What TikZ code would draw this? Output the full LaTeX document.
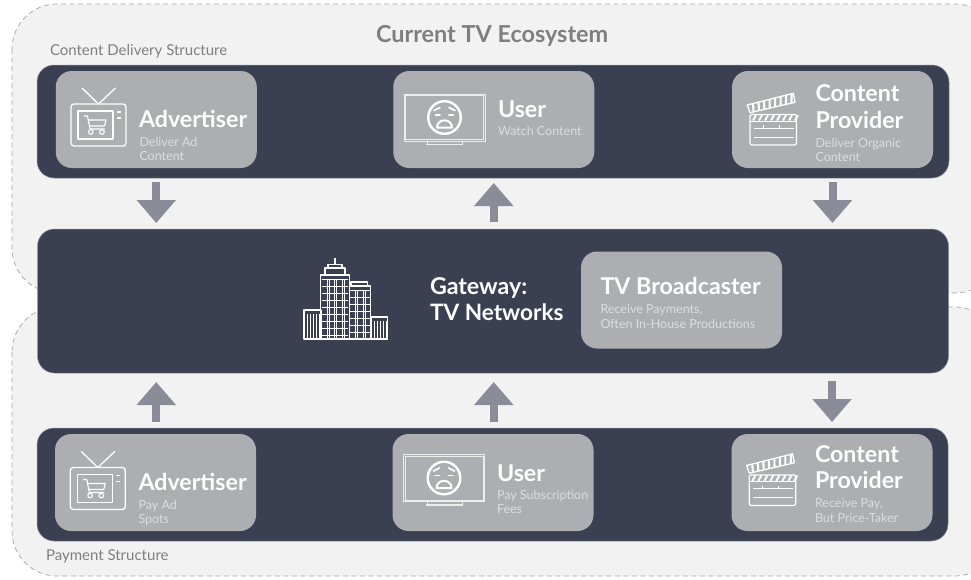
\documentclass[tikz,border=0pt]{standalone}
\usepackage{fontspec}
\setmainfont{Lato}
\usetikzlibrary{arrows.meta}
\definecolor{panelfill}{HTML}{F2F2F2}
\definecolor{paneldash}{HTML}{A6A6A6}
\definecolor{bardark}{HTML}{3A3F52}
\definecolor{baredge}{HTML}{8E909A}
\definecolor{cardgray}{HTML}{ADAEB2}
\definecolor{arrowgray}{HTML}{8A8D99}
\definecolor{headgray}{HTML}{7F7F7F}
\definecolor{subwhite}{HTML}{DCDDE0}
\tikzset{
  panel/.style={fill=panelfill,draw=paneldash,line width=0.7pt,dash pattern=on 5pt off 3.5pt,rounded corners=45pt},
  darkbar/.style={fill=bardark,draw=baredge,line width=0.5pt,rounded corners=17pt,minimum width=#1,inner sep=0pt,outer sep=0pt},
  card/.style={fill=cardgray,rounded corners=16pt,minimum width=201pt,minimum height=97pt,inner sep=0pt,outer sep=0pt},
  blockarrow/.style={draw=arrowgray,line width=8pt,-{Triangle[length=23pt,width=38pt,fill=arrowgray]}},
  txt/.style={anchor=base west,inner sep=0pt,outer sep=0pt},
  cardtitle/.style={txt,text=white,font=\fontsize{23.2}{23}\selectfont\bfseries},
  cardsub/.style={txt,text=subwhite,font=\fontsize{12.5}{13}\selectfont},
  structlabel/.style={txt,text=headgray,font=\fontsize{15}{15}\selectfont},
  icon/.style={draw=white,line width=1.3pt,line join=round,line cap=round},
  thinicon/.style={draw=white,line width=0.7pt},
}
\newcommand{\tvcart}[2]{%
\begin{scope}[shift={(#1,#2)}]
 \draw[icon,rounded corners=3pt] (71,104) rectangle (126,146);
 \draw[icon] (82,88) -- (98.5,104) -- (115.5,88);
 \draw[icon] (78,111) rectangle (113,139);
 \draw[icon] (117.5,112) -- (120.5,112) (117.5,118) -- (120.5,118);
 \draw[icon,line width=1.1pt] (84,116) -- (87.5,116) -- (90,129) -- (104.5,129) (88,120) -- (106,120) -- (104.5,126) -- (89.5,126);
 \draw[icon,line width=1.1pt] (90.8,132) circle (2.3) (102,132) circle (2.3);
\end{scope}}
\newcommand{\sadtv}[2]{%
\begin{scope}[shift={(#1,#2)}]
 \draw[draw=white,line width=0.5pt,opacity=.8] (404,94) rectangle (485,141);
 \draw[draw=white,line width=0.9pt,opacity=.8] (405.5,95.5) rectangle (483.5,139.5);
 \draw[draw=white,line width=0.6pt,opacity=.8] (427.5,141) -- (427.5,144) (462.5,141) -- (462.5,144);
 \draw[draw=white,line width=1.5pt,opacity=.8] (426,144.5) -- (463,144.5);
 \draw[icon,line width=2.4pt] (444.5,117.5) circle (16.3);
 \draw[icon,line width=1.7pt] (434,110.5) -- (440,107.5) (455,110.5) -- (449,107.5);
 \draw[icon,line width=1.9pt] (435.5,115) -- (440,115) (449,115) -- (453.5,115);
 \draw[icon,line width=2pt] (437,127.5) .. controls (437,118) and (452,118) .. (452,127.5) -- cycle;
\end{scope}}
\newcommand{\clapper}[2]{%
\begin{scope}[shift={(#1,#2)}]
 \draw[icon] (747.3,105) -- (793.3,93.3) -- (795,102.3) -- (750,112.7) -- cycle;
 \foreach \t in {0.08,0.2,...,0.95}{
   \draw[draw=white,line width=2.1pt] ({747.3+46*\t+2},{105-11.7*\t}) -- ({750+45*\t},{112.7-10.4*\t});
 }
 \draw[icon,rounded corners=1.5pt] (750,114.5) -- (796.5,114.5) -- (796.5,145) -- (750,145) -- cycle;
 \draw[icon,line width=1pt] (750,121) -- (796.5,121);
 \foreach \x in {753,759,...,795}{
   \draw[draw=white,line width=1.9pt] (\x,120.5) -- (\x+3,115);
 }
 \draw[draw=white,line width=0.9pt] (754,128) -- (794,128) (754,137) -- (794,137) (763,125) -- (763,128) (779,125) -- (779,128);
\end{scope}}
\begin{document}
\begin{tikzpicture}[x=1pt,y=-1pt]
\useasboundingbox (0,0) rectangle (971,579);
\clip (0,0) rectangle (971,579);
\fill[white] (0,0) rectangle (971,579);
% panels
\draw[panel] (12,4) rectangle (1000,293);
\draw[panel] (12,307) rectangle (1000,576);
% bars
\node[darkbar=912pt,minimum height=113pt] (topbar) at (493,121.5) {};
\node[darkbar=911pt,minimum height=144pt] (midbar) at (493,301) {};
\node[darkbar=911pt,minimum height=113pt] (botbar) at (492.5,484.5) {};
% cards
\node[card] (adv1) at (156.25,119.5) {};
\node[card] (usr1) at (493.75,119.5) {};
\node[card] (con1) at (832.5,119.5) {};
\node[card] (bro) at (681.5,300) {};
\node[card] (adv2) at (155.5,482.5) {};
\node[card] (usr2) at (493,482.5) {};
\node[card] (con2) at (832,482.5) {};
% arrows
\draw[blockarrow] ([yshift=-4pt]adv1.center |- topbar.south) -- ([yshift=6pt]adv1.center |- midbar.north);
\draw[blockarrow] ([yshift=7pt]usr1.center |- midbar.north) -- ([yshift=-5pt]usr1.center |- topbar.south);
\draw[blockarrow] ([yshift=-4pt]con1.center |- topbar.south) -- ([yshift=6pt]con1.center |- midbar.north);
\draw[blockarrow] ([yshift=6pt]adv1.center |- botbar.north) -- ([yshift=-9pt]adv1.center |- midbar.south);
\draw[blockarrow] ([yshift=6pt]usr1.center |- botbar.north) -- ([yshift=-9pt]usr1.center |- midbar.south);
\draw[blockarrow] ([yshift=-8pt]con2.center |- midbar.south) -- ([yshift=6pt]con2.center |- botbar.north);
% headings
\node[txt,text=headgray,font=\fontsize{23.4}{23}\selectfont\bfseries] (ttl) at (376,42) {Current TV Ecosystem};
\node[structlabel] (cds) at (50,55.5) {Content Delivery Structure};
\node[structlabel] (pst) at (46,560) {Payment Structure};
% card text
\node[cardtitle] (a1t) at (139,127) {Advertiser};
\node[cardsub] (a1s) at (139.5,146) {Deliver Ad};
\node[cardsub] (a1u) at (139.5,160) {Content};
\node[cardtitle] (u1t) at (498,117) {User};
\node[cardsub] (u1s) at (498,135) {Watch Content};
\node[cardtitle] (c1t) at (815.5,101.5) {Content};
\node[cardtitle] (c1u) at (815.5,128) {Provider};
\node[cardsub] (c1s) at (815.5,147) {Deliver Organic};
\node[cardsub] (c1v) at (815.5,161) {Content};
\node[cardtitle] (a2t) at (138.5,490) {Advertiser};
\node[cardsub] (a2s) at (138.5,509) {Pay Ad};
\node[cardsub] (a2u) at (138.5,523) {Spots};
\node[cardtitle] (u2t) at (497,481) {User};
\node[cardsub] (u2s) at (497,499) {Pay Subscription};
\node[cardsub] (u2u) at (497,513) {Fees};
\node[cardtitle] (c2t) at (815,462) {Content};
\node[cardtitle] (c2u) at (815,488) {Provider};
\node[cardsub] (c2s) at (815,507) {Receive Pay,};
\node[cardsub] (c2v) at (815,522) {But Price-Taker};
\node[cardtitle] (g1) at (430,294) {Gateway:};
\node[cardtitle,font=\fontsize{22.6}{23}\selectfont\bfseries] (g2) at (430,320) {TV Networks};
\node[cardtitle] (b1) at (600.5,294) {TV Broadcaster};
\node[cardsub] (b2) at (600.5,313) {Receive Payments,};
\node[cardsub] (b3) at (600.5,328) {Often In-House Productions};
% icons
\tvcart{0}{0}
\tvcart{-0.7}{363.5}
\sadtv{0}{0}
\sadtv{-0.5}{360.5}
\clapper{0}{0}
\clapper{-0.7}{360.5}
% building
\draw[icon,line width=1.4pt,line cap=butt] (304,339) rectangle (321,310);
\draw[icon,line width=1.4pt,line cap=butt] (371,339) rectangle (387.5,317);
\draw[icon,line width=1.5pt,line cap=butt] (320.7,339) rectangle (349.3,275);
\draw[icon,line width=1.5pt,line cap=butt] (349.3,339) rectangle (370.7,286);
\draw[icon,line width=1.2pt,line cap=butt] (325,275) -- (325,268) -- (345,268) -- (345,275);
\draw[icon,line width=1.2pt,line cap=butt] (328,268) -- (328,264.5) -- (342,264.5) -- (342,268);
\draw[icon,line width=1.2pt,line cap=butt] (335,264) -- (335,257.5);
\draw[icon,line width=1.2pt,line cap=butt] (351,286) -- (351,282) -- (367.5,282) -- (367.5,286);
\draw[draw=white,line width=2pt] (304,339) -- (387.5,339);
\foreach \x in {327,334,342}{\draw[thinicon] (\x,279) -- (\x,338);}
\foreach \x in {329,336,344}{\draw[thinicon] (\x,279) -- (\x,338);}
\foreach \y in {279,286,...,335}{\draw[thinicon] (322,\y) -- (348,\y);}
\foreach \x in {355,357,363,365}{\draw[thinicon] (\x,290) -- (\x,338);}
\foreach \y in {290,297,...,335}{\draw[thinicon] (350,\y) -- (370,\y);}
\foreach \x in {307,310,313,316,319}{\draw[thinicon] (\x,314) -- (\x,338);}
\foreach \x in {374,377,380,383,386}{\draw[thinicon] (\x,321) -- (\x,338);}
\end{tikzpicture}
\end{document}
